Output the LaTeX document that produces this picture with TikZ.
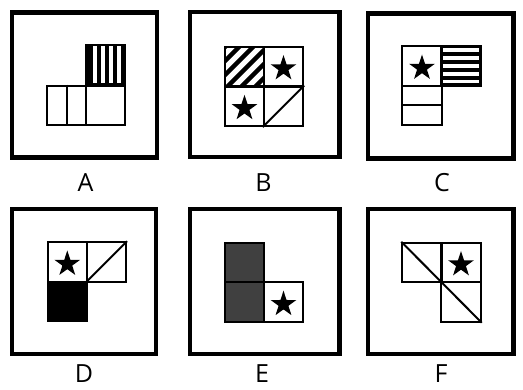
\documentclass[tikz,border=0pt]{standalone}
\usepackage{fontspec}
\setmainfont{Open Sans}
\usetikzlibrary{shapes.geometric,positioning,calc}

\tikzset{
  frame/.style={draw=black, line width=4.5pt, minimum height=145pt, inner sep=0pt},
  cell/.style={draw=black, line width=2pt, minimum size=39.5pt, inner sep=0pt},
  starmark/.style={star, star points=5, star point ratio=2.6, fill=black, inner sep=0pt, minimum size=27pt},
  letter/.style={font=\fontsize{25}{25}\selectfont}
}

\begin{document}
\begin{tikzpicture}[x=1pt, y=-1pt]
  \useasboundingbox (0,0) rectangle (523,390);
  \fill[white] (0,0) rectangle (523,390);

  % outer frames
  \node[frame, minimum width=145pt] (frA) at (84.7,84.8) {};
  \node[frame, minimum width=149.5pt] (frB) at (264.7,84.7) {};
  \node[frame, minimum width=145.5pt] (frC) at (440.7,86) {};
  \node[frame, minimum width=144pt] (frD) at (84.2,281.7) {};
  \node[frame, minimum width=149.5pt] (frE) at (264.7,281.7) {};
  \node[frame, minimum width=145.5pt] (frF) at (440.7,281.7) {};

  % A
  \fill[black] (85.7,44.9) rectangle (125.3,84.5);
  \foreach \u in {92.5,100.5,108.5,116.5}
    \fill[white] (\u,45.5) rectangle ({\u+4},84);
  \node[cell] (a1) at (66.7,105.3) {};
  \node[cell] (a2) at (105.5,105.3) {};
  \node[cell] (a3) at (105.5,64.7) {};
  \draw[line width=2pt] (a1.north) -- (a1.south);

  % B
  \begin{scope}
    \clip (224.7,46.7) rectangle (264.3,86.3);
    \foreach \b in {40,26,12,-2,-16,-30}
      \draw[line width=4.5pt] ({225-\b},87) -- ({275-\b},37);
  \end{scope}
  \node[cell] (b1) at (244.5,66.5) {};
  \node[cell] (b2) at (283.5,66.5) {};
  \node[cell] (b3) at (244.5,106.3) {};
  \node[cell] (b4) at (283.5,106.3) {};
  \node[starmark] (sB1) at ([yshift=-2pt]b2) {};
  \node[starmark] (sB2) at ([yshift=-2pt]b3) {};
  \draw[line width=2pt] (b4.south west) -- (b4.north east);

  % C
  \fill[black] (441.2,46.2) rectangle (480.8,85.8);
  \foreach \v in {48.5,56.5,64.5,72.5,80.5}
    \fill[white] (442.5,\v) rectangle (479,{min(\v+4,83.5)});
  \node[cell] (c1) at (422,66) {};
  \node[cell] (c2) at (461,66) {};
  \node[cell] (c3) at (422,105.5) {};
  \node[starmark] (sC) at ([yshift=-2pt]c1) {};
  \draw[line width=2pt] (c3.west) -- (c3.east);

  % D
  \node[cell] (d1) at (67.3,262) {};
  \node[cell] (d2) at (106.3,262) {};
  \node[cell, fill=black] (d3) at (67.3,301.5) {};
  \node[starmark] (sD) at ([yshift=-2pt]d1) {};
  \draw[line width=2pt] (d2.south west) -- (d2.north east);

  % E
  \node[cell, fill=black!75] (e1) at (244.5,262.7) {};
  \node[cell, fill=black!75] (e2) at (244.5,302.2) {};
  \node[cell] (e3) at (283.5,302.2) {};
  \node[starmark] (sE) at ([yshift=-2pt]e3) {};

  % F
  \node[cell] (f1) at (422,262.5) {};
  \node[cell] (f2) at (461,262.5) {};
  \node[cell] (f3) at (461,302) {};
  \node[starmark] (sF) at ([yshift=-2pt]f2) {};
  \draw[line width=2pt] (f1.north west) -- (f3.south east);

  % labels
  \node[letter] (lA) at (85.5,183) {A};
  \node[letter] (lB) at (263.5,183) {B};
  \node[letter] (lC) at (442,183) {C};
  \node[letter] (lD) at (84,374) {D};
  \node[letter] (lE) at (262,374) {E};
  \node[letter] (lF) at (441,374) {F};
\end{tikzpicture}
\end{document}
